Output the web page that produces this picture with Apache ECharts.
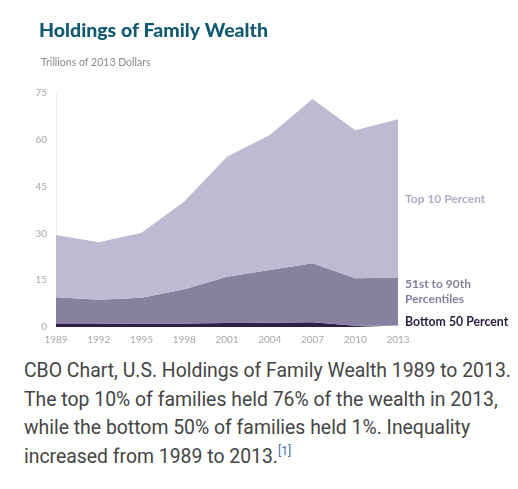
<!DOCTYPE html>
<html>
<head>
<meta charset="utf-8">
<script src="https://cdn.jsdelivr.net/npm/echarts@6/dist/echarts.min.js"></script>
<style>
  html, body { margin: 0; padding: 0; background: #fff; }
  #chart { position: absolute; left: 0; top: 0; width: 518px; height: 352px; }
  #caption {
    position: absolute; left: 24px; top: 357px; width: 494px;
    font-family: Roboto, sans-serif; font-size: 19.4px; line-height: 28.5px; color: #454545;
  }
  #caption sup { font-size: 12px; color: #3f6ea6; vertical-align: 8px; line-height: 0; }
</style>
</head>
<body>
<div id="chart"></div>
<div id="caption">CBO Chart, U.S. Holdings of Family Wealth 1989 to 2013. The top 10% of families held 76% of the wealth in 2013, while the bottom 50% of families held 1%. Inequality increased from 1989 to 2013.<sup>[1]</sup></div>
<script>
// survey years
var years = ['1989', '1992', '1995', '1998', '2001', '2004', '2007', '2010', '2013']
// trillions of 2013 dollars
var bottom50 = [1.0, 1.0, 1.1, 1.1, 1.3, 1.4, 1.5, 0.4, 0.5]
var mid40 = [8.5, 7.7, 8.3, 11.0, 14.8, 16.9, 18.9, 15.2, 15.4]
var top10 = [20.0, 18.5, 20.8, 28.1, 38.5, 43.2, 52.7, 47.5, 50.7]
var yTicks = [0, 15, 30, 45, 60, 75]

var chart = echarts.init(document.getElementById('chart'))

function area(name, vals, color) {
  return {
    name: name,
    type: 'line',
    stack: 'wealth',
    data: vals,
    symbol: 'none',
    lineStyle: { width: 0 },
    areaStyle: { color: color, opacity: 1 }
  }
}

chart.setOption({
  animation: false,
  title: [{
    text: 'Holdings of Family Wealth',
    left: 34, top: 16,
    textStyle: { fontFamily: 'Lato', fontWeight: 900, fontSize: 19.5, color: '#125a72' }
  }, {
    text: 'Trillions of 2013 Dollars',
    left: 36, top: 52,
    textStyle: { fontFamily: 'Lato', fontWeight: 'normal', fontSize: 10.5, color: '#8a8a8a' }
  }],
  grid: { left: 56, right: 120, top: 93, bottom: 352 - 327 },
  xAxis: {
    type: 'category',
    data: years,
    boundaryGap: false,
    axisLine: { show: false },
    axisTick: { show: true, inside: true, length: 3, lineStyle: { color: '#d8d4e2' } },
    splitLine: { show: false },
    axisLabel: { color: '#a8a8a8', fontSize: 10, fontFamily: 'Lato', margin: 8, interval: 0 }
  },
  yAxis: {
    type: 'value',
    min: yTicks[0], max: yTicks[yTicks.length - 1], interval: 15,
    axisLine: { show: true, lineStyle: { color: '#eeeeee' } },
    axisTick: { show: false },
    splitLine: { show: false },
    axisLabel: { color: '#a8a8a8', fontSize: 10, fontFamily: 'Lato', margin: 9 }
  },
  series: [
    area('Bottom 50 Percent', bottom50, '#2e2145'),
    area('51st to 90th Percentiles', mid40, '#87819f'),
    area('Top 10 Percent', top10, '#bdbad2')
  ],
  graphic: [{
    type: 'text', left: 405, top: 193,
    style: { text: 'Top 10 Percent', fill: '#b1adc6', font: 'bold 12px Lato' }
  }, {
    type: 'text', left: 405, top: 277,
    style: { text: '51st to 90th\nPercentiles', fill: '#857f9c', font: 'bold 12px Lato', lineHeight: 15 }
  }, {
    type: 'text', left: 405, top: 316,
    style: { text: 'Bottom 50 Percent', fill: '#2a1d3d', font: 'bold 12.3px Lato' }
  }]
})
</script>
</body>
</html>
